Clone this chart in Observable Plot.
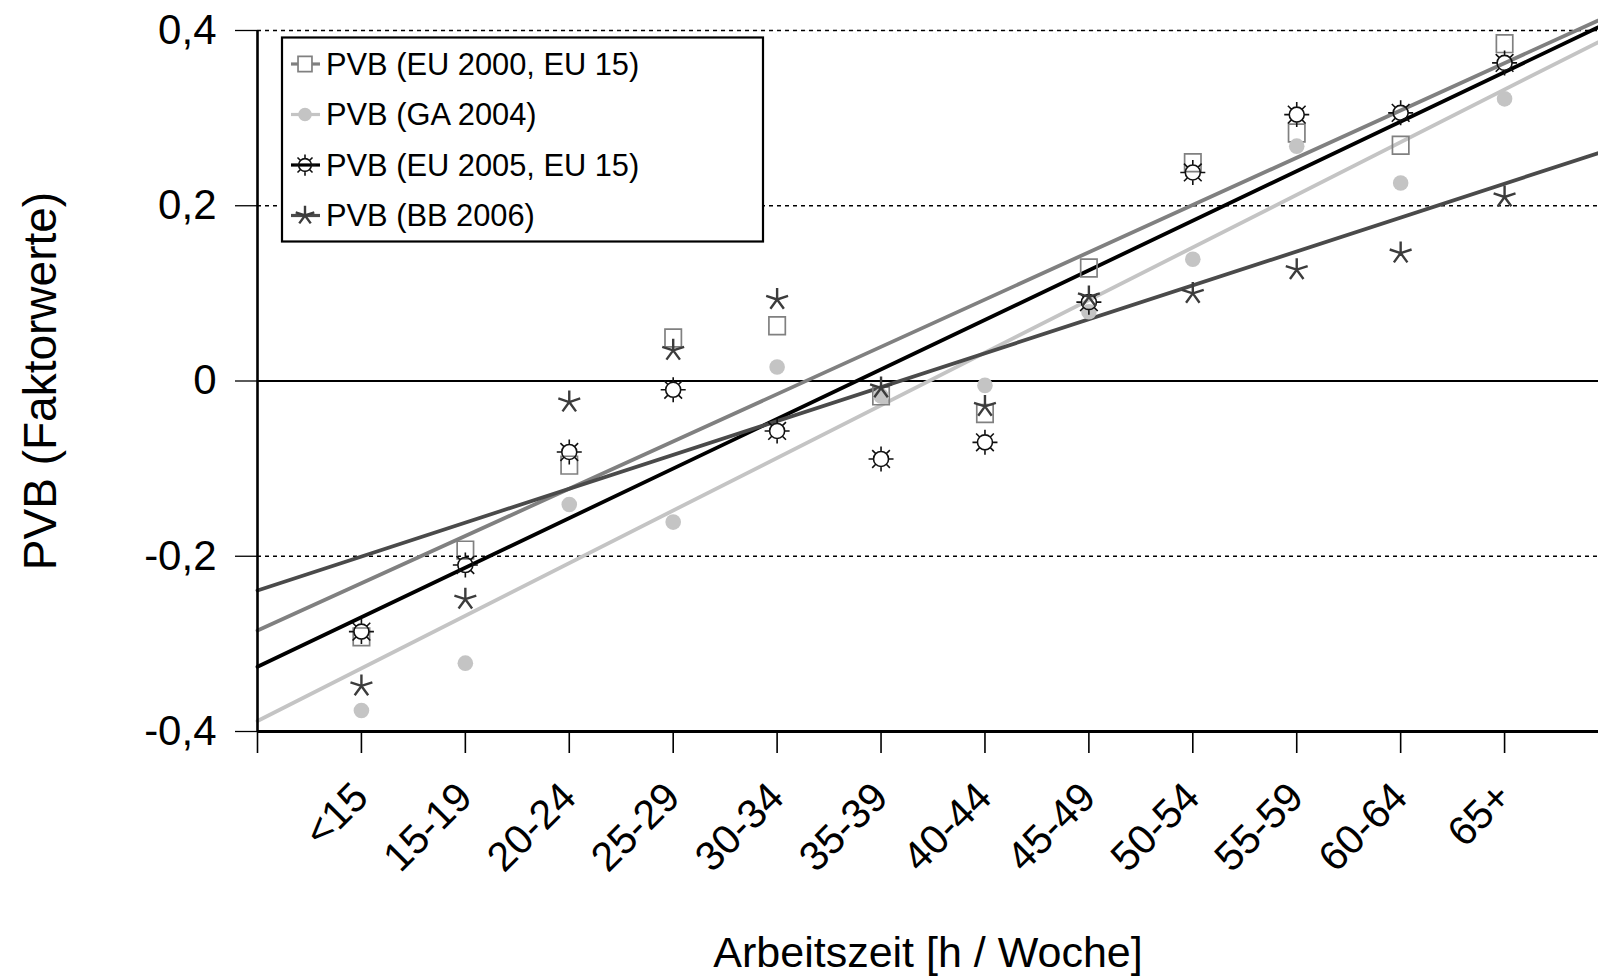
<!DOCTYPE html>
<html>
<head>
<meta charset="utf-8">
<script src="https://cdn.jsdelivr.net/npm/d3@7"></script>
<script src="https://cdn.jsdelivr.net/npm/@observablehq/plot@0.6"></script>
<style>
  html, body { margin: 0; padding: 0; background: white; }
  #wrap { position: relative; width: 1598px; height: 977px; overflow: hidden; }
  #legend { position: absolute; left: 0; top: 0; pointer-events: none; }
</style>
</head>
<body>
<div id="wrap"></div>
<script>
// ---- data ----
const categories = ["<15","15-19","20-24","25-29","30-34","35-39","40-44","45-49","50-54","55-59","60-64","65+"];
const eu2000 = [-0.292,-0.193,-0.096,0.049,0.063,-0.017,-0.037,0.129,0.249,0.283,0.269,0.385];
const ga2004 = [-0.376,-0.322,-0.141,-0.161,0.016,-0.017,-0.005,0.079,0.139,0.268,0.226,0.322];
const eu2005 = [-0.286,-0.210,-0.081,-0.010,-0.057,-0.089,-0.070,0.090,0.238,0.304,0.306,0.363];
const bb2006 = [-0.348,-0.249,-0.024,0.035,0.093,-0.008,-0.029,0.096,0.100,0.127,0.146,0.210];
const seriesNames = ["PVB (EU 2000, EU 15)","PVB (GA 2004)","PVB (EU 2005, EU 15)","PVB (BB 2006)"];
const yTicks = [-0.4,-0.2,0,0.2,0.4];
const yTickLabels = ["-0,4","-0,2","0","0,2","0,4"];
const gridValues = [-0.2,0.2,0.4];
const xTitle = "Arbeitszeit [h / Woche]";
const yTitle = "PVB (Faktorwerte)";

// ---- custom symbols ----
const squareSym = {draw(ctx, size){ const r = Math.sqrt(size/Math.PI); ctx.rect(-r,-r*1.08,2*r,2*r*1.08); }};
const sunSym = {draw(ctx, size){
  const r = Math.sqrt(size/Math.PI); const rc = r*0.6;
  ctx.moveTo(rc,0); ctx.arc(0,0,rc,0,2*Math.PI);
  for (let k=0;k<8;k++){ const a=k*Math.PI/4; ctx.moveTo(Math.cos(a)*rc*1.05,Math.sin(a)*rc*1.05); ctx.lineTo(Math.cos(a)*r,Math.sin(a)*r); }
}};
const starSym = {draw(ctx, size){
  const r = Math.sqrt(size/Math.PI);
  for (let k=0;k<5;k++){ const a=-Math.PI/2+k*2*Math.PI/5; ctx.moveTo(0,0); ctx.lineTo(Math.cos(a)*r,Math.sin(a)*r); }
}};

const series = [
  {name: seriesNames[0], values: eu2000, line: "#808080", sym: squareSym, r: 8.2, fill: "none", stroke: "#808080", sw: 1.7},
  {name: seriesNames[1], values: ga2004, line: "#c4c4c4", sym: "circle", r: 7.8, fill: "#c4c4c4", stroke: "none", sw: 0},
  {name: seriesNames[2], values: eu2005, line: "#000000", sym: sunSym, r: 12.5, fill: "none", stroke: "#111", sw: 1.6},
  {name: seriesNames[3], values: bb2006, line: "#4a4a4a", sym: starSym, r: 11.5, fill: "none", stroke: "#3c3c3c", sw: 2.4}
];

function pts(vals){ return vals.map((v,i)=>({i, v})); }
// least-squares trend lines spanning the x domain
function trend(vals){
  const xs = vals.map((_,i)=>i);
  const mx = d3.mean(xs), my = d3.mean(vals);
  const b = d3.sum(xs, (x,k)=>(x-mx)*(vals[k]-my)) / d3.sum(xs, x=>(x-mx)**2);
  const a = my - b*mx;
  return [-1, 12].map(x => ({i: x, v: a + b*x}));
}

const marks = [
  Plot.ruleY(gridValues, {stroke: "black", strokeWidth: 1.3, strokeDasharray: "4,4"}),
  Plot.ruleY([0], {stroke: "black", strokeWidth: 2.2}),
  Plot.axisY({ticks: yTicks, tickSize: 22, tickPadding: 19, tickFormat: d => yTickLabels[yTicks.indexOf(d)], fontSize: 42, label: null, strokeWidth: 1.3}),
  Plot.axisX({ticks: d3.range(-1, 12), tickSize: 22, tickFormat: () => "", label: null, strokeWidth: 1.6}),
];
for (const s of series) {
  marks.push(Plot.line(trend(s.values), {x: "i", y: "v", stroke: s.line, strokeWidth: 3.8}));
}
for (const s of series) {
  if (s.sym === "circle") {
    marks.push(Plot.dot(pts(s.values), {x: "i", y: "v", r: s.r, fill: s.fill, stroke: "none"}));
  } else {
    marks.push(Plot.dot(pts(s.values), {x: "i", y: "v", r: s.r, symbol: s.sym, fill: "none", stroke: s.stroke, strokeWidth: s.sw}));
  }
}
marks.push(
  Plot.ruleY([-0.4], {stroke: "black", strokeWidth: 3}),
  Plot.ruleX([-1], {stroke: "black", strokeWidth: 2.6}),
  Plot.text(categories, {x: (d,i)=>i, y: () => -0.4, text: d => d, rotate: -45, textAnchor: "end", lineAnchor: "bottom", dx: 9, dy: 68, fontSize: 41, fill: "black"}),
  Plot.text([xTitle], {frameAnchor: "bottom", textAnchor: "middle", lineAnchor: "bottom", dy: 235, fontSize: 43, fill: "black"}),
  Plot.text([yTitle], {frameAnchor: "left", textAnchor: "middle", rotate: -90, lineAnchor: "middle", dx: -216, fontSize: 46, fill: "black"})
);

const chart = Plot.plot({
  width: 1598, height: 977,
  marginLeft: 257, marginRight: 0, marginTop: 30, marginBottom: 246,
  x: {type: "linear", domain: [-1, 12], range: [257, 1608]},
  y: {domain: [-0.4, 0.4]},
  style: {fontFamily: "'Liberation Sans', Arial, sans-serif", background: "white", color: "black", overflow: "hidden"},
  marks
});
document.getElementById("wrap").appendChild(chart);

// ---- legend ----
const lg = d3.select("#wrap").append("svg").attr("id","legend").attr("width",1598).attr("height",977);
lg.append("rect").attr("x",282).attr("y",37.5).attr("width",481).attr("height",204)
  .attr("fill","white").attr("stroke","black").attr("stroke-width",2.2);
const rowY = [64, 114.5, 165, 215.5];
series.forEach((s, k) => {
  const g = lg.append("g").attr("transform", `translate(0,${rowY[k]})`);
  g.append("line").attr("x1",291).attr("x2",320).attr("y1",0).attr("y2",0).attr("stroke",s.line).attr("stroke-width",3.2);
  const type = s.sym === "circle" ? d3.symbolCircle : s.sym;
  const lr = s.sym === "circle" ? 6.8 : s.r*0.85;
  g.append("path").attr("transform","translate(305,0)")
    .attr("d", d3.symbol().type(type).size(Math.PI*lr*lr)())
    .attr("fill", s.sym === "circle" ? s.fill : (s.sym === squareSym ? "white" : "none"))
    .attr("stroke", s.stroke).attr("stroke-width", s.sw || 0);
  g.append("text").attr("x",326).attr("y",0).attr("dy","0.35em")
    .attr("font-family","'Liberation Sans', Arial, sans-serif").attr("font-size",30.8).attr("fill","black")
    .text(s.name);
});
</script>
</body>
</html>
